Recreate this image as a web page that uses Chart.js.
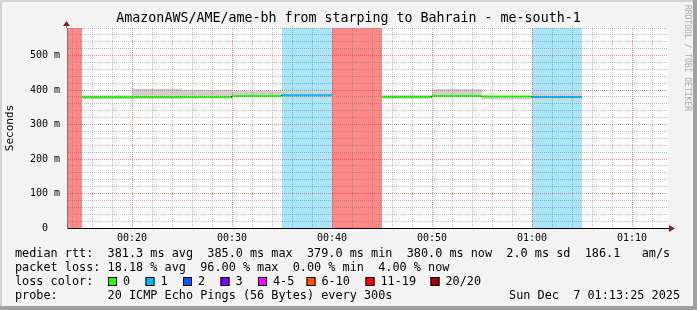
<!DOCTYPE html>
<html>
<head>
<meta charset="utf-8">
<title>AmazonAWS/AME/ame-bh</title>
<script src="https://cdn.jsdelivr.net/npm/chart.js@4/dist/chart.umd.min.js"></script>
<style>
  html, body { margin: 0; padding: 0; background: #f3f3f3; }
  canvas { display: block; }
</style>
</head>
<body>
<canvas id="graph" width="697" height="310"></canvas>
<script>
// x is minutes after 00:00, rrd step is 5 minutes
const viewStart = 13.5;
const viewEnd = 73.6;
const yMax = 580;
const slotLength = 5;
const slotStart = [10, 15, 20, 25, 30, 35, 40, 45, 50, 55, 60];
// rtt in ms, null = no answer
const medianRtt = [null, 379.5, 380, 379, 382.5, 385, null, 380, 383, 381, 380];
const smokeLow  = [null, 374, 374, 378, 379, 378, null, 375, 379, 373, 373];
const smokeHigh = [null, 385, 404, 400, 398, 394, null, 386, 403, 381, 389];
// index into lossLabels
const lossClass = [6, 0, 0, 0, 0, 1, 6, 0, 0, 0, 1];

const lossLabels = ["0", "1", "2", "3", "4-5", "6-10", "11-19", "20/20"];
const lossColors = ["#26ff00", "#00b8ff", "#0059ff", "#7e00ff", "#ff00ff", "#ff5500", "#ff0000", "#a10000"];
const bandColors = [null, "#aae6fa", "#a6c4fc", "#cfa6fc", "#fca6fc", "#fcc0a6", "#ff8888", "#d08888"];

const legendRows = [
    "median rtt:  381.3 ms avg  385.0 ms max  379.0 ms min  380.0 ms now  2.0 ms sd  186.1   am/s",
    "packet loss: 18.18 % avg  96.00 % max  0.00 % min  4.00 % now"
];
const probeText = "probe:       20 ICMP Echo Pings (56 Bytes) every 300s";
const stampText = "Sun Dec  7 01:13:25 2025";
const titleText = "AmazonAWS/AME/ame-bh from starping to Bahrain - me-south-1";

const MONO = "'DejaVu Sans Mono', 'Liberation Mono', monospace";

// each 5 minute slot becomes a flat step, null leaves a gap
function steps(values) {
    const pts = [];
    values.forEach((v, i) => {
        if (v === null) {
            pts.push({ x: slotStart[i] + slotLength / 2, y: null });
            return;
        }
        pts.push({ x: slotStart[i], y: v }, { x: slotStart[i] + slotLength, y: v });
    });
    return pts;
}

function pad(n) {
    return String(n).padStart(2, "0");
}

const datasets = [
    {
        label: "median",
        data: steps(medianRtt),
        borderWidth: 2,
        borderCapStyle: "butt",
        pointRadius: 0,
        fill: false,
        order: 0,
        segment: {
            borderColor: ctx => {
                if (ctx.p0.parsed.x === ctx.p1.parsed.x) return "#000";
                const i = slotStart.indexOf(ctx.p0.parsed.x);
                return lossColors[lossClass[i]];
            }
        }
    },
    {
        label: "smokeHigh",
        data: steps(smokeHigh),
        borderWidth: 0,
        pointRadius: 0,
        backgroundColor: "#cfcfcf",
        fill: "+1",
        order: 1
    },
    {
        label: "smokeLow",
        data: steps(smokeLow),
        borderWidth: 0,
        pointRadius: 0,
        fill: false,
        order: 2
    }
];

// loss background, one dataset per loss colour in use
[...new Set(lossClass)].filter(c => c > 0).forEach(c => {
    datasets.push({
        label: "loss " + lossLabels[c],
        data: steps(lossClass.map(l => (l === c ? yMax : null))),
        borderWidth: 0,
        pointRadius: 0,
        backgroundColor: bandColors[c],
        fill: "origin",
        order: 3
    });
});

const minorGrid = "rgba(110,110,110,0.45)";
const majorGrid = "rgba(215,40,40,0.5)";

const smokeFrame = {
    id: "smokeFrame",
    beforeDraw(chart) {
        const { ctx, chartArea: a, width, height } = chart;
        ctx.save();
        ctx.fillStyle = "#f3f3f3";
        ctx.fillRect(0, 0, width, height);
        ctx.fillStyle = "#d2d2d2";
        ctx.fillRect(0, 0, width, 2);
        ctx.fillRect(0, 0, 2, height);
        ctx.fillStyle = "#a0a0a0";
        ctx.fillRect(width - 4, 0, 4, height);
        ctx.fillRect(0, height - 4, width, 4);
        ctx.fillStyle = "#fff";
        ctx.fillRect(a.left, a.top, a.right - a.left, a.bottom - a.top);
        ctx.restore();
    },
    afterDraw(chart) {
        const { ctx, chartArea: a } = chart;
        ctx.save();

        // axis arrows
        ctx.fillStyle = "#8b1c1c";
        ctx.strokeStyle = "#777";
        ctx.lineWidth = 1;
        ctx.beginPath();
        ctx.moveTo(a.left - 0.5, a.top);
        ctx.lineTo(a.left - 0.5, a.top - 3);
        ctx.stroke();
        ctx.beginPath();
        ctx.moveTo(a.left - 0.5, a.top - 7);
        ctx.lineTo(a.left - 4, a.top - 2);
        ctx.lineTo(a.left + 3, a.top - 2);
        ctx.closePath();
        ctx.fill();
        ctx.strokeStyle = "#000";
        ctx.beginPath();
        ctx.moveTo(a.right, a.bottom + 0.5);
        ctx.lineTo(a.right + 2, a.bottom + 0.5);
        ctx.stroke();
        ctx.beginPath();
        ctx.moveTo(a.right + 7, a.bottom + 0.5);
        ctx.lineTo(a.right + 1, a.bottom - 3);
        ctx.lineTo(a.right + 1, a.bottom + 4);
        ctx.closePath();
        ctx.fill();

        // title
        ctx.fillStyle = "#000";
        ctx.font = "13.3px " + MONO;
        ctx.textAlign = "center";
        ctx.textBaseline = "middle";
        ctx.fillText(titleText, chart.width / 2, 19);

        // legend
        ctx.font = "11.84px " + MONO;
        ctx.textAlign = "left";
        ctx.fillText(legendRows[0], 15, 254);
        ctx.fillText(legendRows[1], 15, 268);
        ctx.fillText("loss color:", 15, 282);
        const swatchX = [108, 145.5, 183, 220.5, 258, 306.5, 365.5, 430.5];
        lossLabels.forEach((lab, i) => {
            ctx.fillStyle = lossColors[i];
            ctx.fillRect(swatchX[i], 277, 9, 9);
            ctx.strokeStyle = "#000";
            ctx.strokeRect(swatchX[i] + 0.5, 277.5, 8, 8);
            ctx.fillStyle = "#000";
            ctx.fillText(lab, swatchX[i] + 15, 282);
        });
        ctx.fillText(probeText, 15, 296);
        ctx.textAlign = "right";
        ctx.fillText(stampText, 680, 296);

        // rrdtool credit on the right edge
        ctx.translate(687, 5);
        ctx.rotate(Math.PI / 2);
        ctx.textAlign = "left";
        ctx.fillStyle = "#aaa";
        ctx.font = "8px " + MONO;
        ctx.fillText("RRDTOOL / TOBI OETIKER", 0, 0);
        ctx.restore();
    }
};

Chart.defaults.font.family = MONO;

new Chart(document.getElementById("graph"), {
    type: "line",
    data: { datasets },
    options: {
        responsive: false,
        devicePixelRatio: 1,
        animation: false,
        events: [],
        layout: { padding: { top: 28, right: 29, bottom: 62, left: 0 } },
        plugins: {
            legend: { display: false },
            tooltip: { enabled: false },
            filler: { propagate: false }
        },
        scales: {
            x: {
                type: "linear",
                min: viewStart,
                max: viewEnd,
                afterFit: s => { s.height = 20; },
                grid: {
                    z: 1,
                    drawTicks: false,
                    color: c => (Math.round(c.tick.value) % 10 === 0 ? majorGrid : minorGrid)
                },
                border: { z: 2, color: "#000", width: 1, dash: [1, 1] },
                ticks: {
                    stepSize: 2,
                    includeBounds: false,
                    autoSkip: false,
                    maxRotation: 0,
                    minRotation: 0,
                    padding: 4,
                    color: "#000",
                    font: { size: 10 },
                    callback: v => {
                        const m = Math.round(v);
                        if (m % 10 !== 0) return "";
                        return pad(Math.floor(m / 60)) + ":" + pad(m % 60);
                    }
                }
            },
            y: {
                min: 0,
                max: yMax,
                afterFit: s => { s.width = 67; },
                grid: {
                    z: 1,
                    drawTicks: false,
                    color: c => (Math.round(c.tick.value) % 100 === 0 ? majorGrid : minorGrid)
                },
                border: { z: 2, color: "#777", width: 1, dash: [1, 1] },
                title: {
                    display: true,
                    text: "Seconds",
                    color: "#000",
                    font: { size: 11 },
                    padding: { top: 3.5, bottom: 0 }
                },
                ticks: {
                    stepSize: 20,
                    includeBounds: false,
                    autoSkip: false,
                    padding: 7,
                    color: "#000",
                    font: { size: 10 },
                    callback: v => {
                        if (v % 100 !== 0) return "";
                        return v === 0 ? "0  " : v + " m";
                    }
                }
            }
        }
    },
    plugins: [smokeFrame]
});
</script>
</body>
</html>
